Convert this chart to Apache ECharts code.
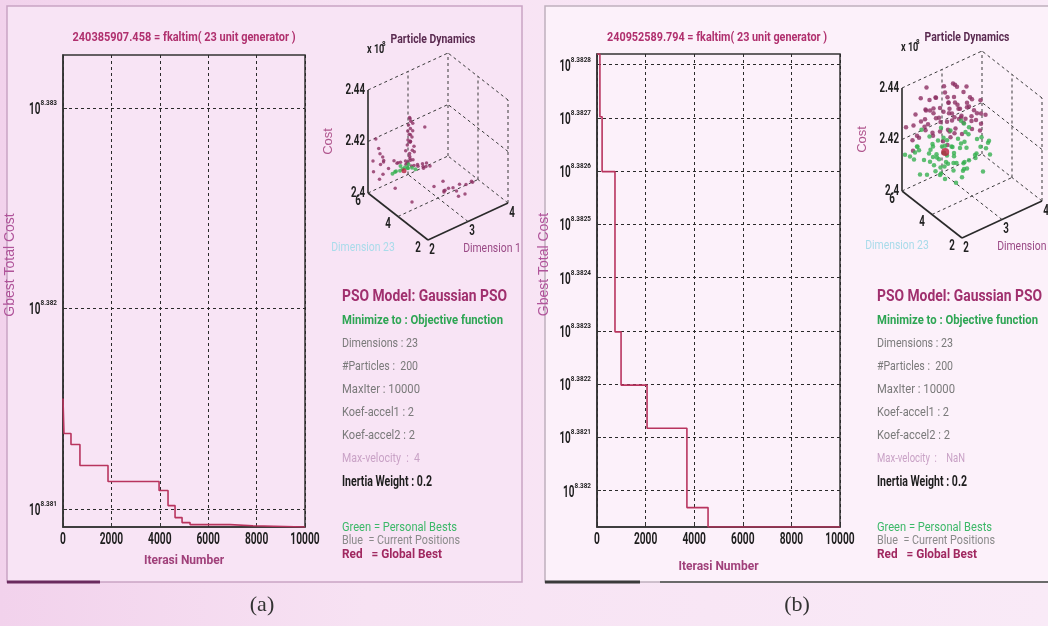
<!DOCTYPE html>
<html>
<head>
<meta charset="utf-8">
<script src="https://cdn.jsdelivr.net/npm/echarts@6/dist/echarts.min.js"></script>
<style>
html,body{margin:0;padding:0;background:#f7e2f3;}
#chart{width:1048px;height:626px;}
</style>
</head>
<body>
<div id="chart"></div>
<script>
// ---- Gbest convergence, run (a): iteration where gbest changes, and the new gbest cost
const iterA = [0, 40, 330, 700, 1860, 3970, 4340, 4630, 4920, 5250, 6900, 7850, 10000];
const gbestA = [240741000, 240644500, 240614000, 240556000, 240511600, 240486700, 240445100,
                240411900, 240398100, 240392500, 240389200, 240385907.458, 240385907.458];
const yTickExpA = [8.381, 8.382, 8.383];     // log10 tick positions
const yTopExpA = 8.383265;

// ---- Gbest convergence, run (b)
const iterB = [0, 120, 210, 740, 990, 2060, 3700, 4570, 10000];
const gbestB = [241446060, 241380450, 241323230, 241156030, 241100490, 241055530,
                240972830, 240952589.794, 240952589.794];
const yTickExpB = [8.382, 8.3821, 8.3822, 8.3823, 8.3824, 8.3825, 8.3826, 8.3827, 8.3828];
const yTopExpB = 8.38282;

const xTicks = [0, 2000, 4000, 6000, 8000, 10000];

const finalCostA = 240385907.458;
const finalCostB = 240952589.794;

// ---- Swarm snapshots: [dimension 1, dimension 23, cost (x 10^8)]
const posA = [
  [2.45,4.4,2.4175],[2.44,4.4,2.4195],[2.47,4.3,2.4210],[2.42,4.5,2.4225],[2.46,4.4,2.4240],
  [2.50,4.4,2.4255],[2.43,4.4,2.4270],[2.48,4.3,2.4285],[2.45,4.5,2.4300],[2.47,4.4,2.4318],
  [2.44,4.4,2.4335],[2.52,4.3,2.4200],[2.40,4.4,2.4250],[2.49,4.5,2.4230],[2.46,4.4,2.4290],
  [2.55,4.4,2.4215],[2.38,4.5,2.4205],[2.46,4.45,2.4180],[2.44,4.35,2.4245],[2.48,4.45,2.4262],
  [2.43,4.5,2.4278],[2.50,4.35,2.4310],[2.47,4.45,2.4325],
  [2.05,4.4,2.4195],[2.15,4.4,2.4180],[2.25,4.5,2.4170],[2.35,4.4,2.4160],[2.45,4.3,2.4150],
  [2.55,4.4,2.4140],[2.65,4.4,2.4130],[2.75,4.3,2.4120],[2.85,4.4,2.4115],[2.95,4.4,2.4110],
  [2.30,4.2,2.4175],[2.60,4.6,2.4150],[2.70,4.2,2.4135],[2.20,4.6,2.4165],[2.80,4.5,2.4125],
  [2.50,4.5,2.4160],[2.40,4.4,2.4165],[2.60,4.3,2.4145],[2.90,4.5,2.4120],[2.30,4.3,2.4180],
  [2.05,5.8,2.4130],[2.10,5.9,2.4080],[2.20,5.7,2.4110],[2.30,5.8,2.4060],[2.15,5.6,2.4160],
  [2.35,5.9,2.4100],[2.08,5.5,2.4190],[2.25,5.9,2.4040],[2.40,5.7,2.4080],[2.12,5.8,2.4210],
  [2.18,5.5,2.4150],[2.28,5.7,2.4120],
  [2.60,3.2,2.4110],[2.80,3.0,2.4090],[3.00,3.3,2.4070],[3.20,3.1,2.4080],[3.40,3.2,2.4060],
  [2.90,3.4,2.4100],[3.10,2.9,2.4050],[3.30,3.0,2.4040],[3.50,3.1,2.4070],[2.70,2.8,2.4100],
  [3.60,3.3,2.4050],[3.00,3.0,2.4085],[3.20,3.3,2.4045],[2.85,3.2,2.4075],
  [2.05,3.2,2.4089],[2.38,5.2,2.4028],[2.82,4.4,2.4270]
];
const pbestA = [
  [2.10,4.4,2.4150],[2.20,4.4,2.4145],[2.30,4.5,2.4140],[2.40,4.4,2.4140],[2.15,4.6,2.4135],
  [2.35,4.3,2.4150],[2.50,4.4,2.4135],[2.25,4.5,2.4155],[2.45,4.5,2.4148],[2.05,4.5,2.4140],
  [2.55,4.3,2.4130],[2.40,4.6,2.4135]
];
const gbestPosA = [[2.30,4.4,2.4138]];

const posB = [
  [2.6,5.5,2.430],[3.2,5.8,2.434],[2.2,4.5,2.428],[3.0,4.0,2.426],[2.1,6.0,2.424],
  [2.4,5.2,2.432],[2.8,5.0,2.429],[3.4,5.4,2.427],[2.5,4.8,2.425],[2.9,5.6,2.436],
  [2.3,5.9,2.428],[3.1,4.6,2.431],[2.7,4.3,2.427],[3.5,5.0,2.424],[2.2,5.4,2.422],
  [2.6,4.1,2.433],[3.3,4.2,2.429],[2.4,4.0,2.430],[2.8,5.9,2.431],[3.3,5.0,2.428],
  [2.0,5.0,2.426],[2.5,5.7,2.438],[3.0,5.2,2.433],[2.9,4.4,2.423],[3.2,4.9,2.437],
  [2.3,4.7,2.434],[2.7,5.3,2.425],[3.4,4.5,2.432],[2.1,4.2,2.429],[2.6,6.0,2.427],
  [3.3,4.2,2.425],[2.4,5.5,2.423],[3.1,5.9,2.429],[2.8,4.6,2.435],[3.3,5.7,2.424],
  [2.2,5.0,2.431],[2.9,4.9,2.421],[3.2,4.4,2.430],[2.5,4.3,2.422],[3.0,5.5,2.427],
  [2.15,5.7,2.420],[3.2,4.0,2.424],[2.7,4.0,2.436],[3.2,5.1,2.422],[2.35,4.4,2.437],
  [3.6,5.6,2.426],[2.05,5.4,2.418],[2.95,5.0,2.439],[3.4,4.8,2.423],[2.45,5.95,2.433],
  [2.3,5.3,2.426],[2.7,5.6,2.433],[3.0,4.7,2.428],[2.5,4.1,2.426],[2.9,5.3,2.431],
  [3.1,4.3,2.427],[2.2,4.8,2.430],[2.6,4.6,2.429],[3.4,5.2,2.430],[2.8,4.2,2.431],
  [2.4,5.8,2.425],[3.0,5.8,2.432],[2.1,5.5,2.427],[2.75,4.9,2.434],[3.25,4.7,2.426],
  [2.55,5.2,2.428],[2.35,4.2,2.425],[3.15,5.4,2.435],[2.65,4.4,2.430],[2.85,5.5,2.427],
  [3.45,4.3,2.427],[2.25,5.1,2.434],[2.95,4.3,2.429],[3.05,5.0,2.425],[2.5,5.5,2.434],
  [2.7,4.7,2.424],[3.35,5.5,2.431],[2.4,4.6,2.432],[2.9,4.7,2.433],[3.1,5.6,2.424]
];
const pbestB = [
  [2.5,5.0,2.414],[2.2,5.5,2.418],[2.8,4.5,2.412],[3.1,5.2,2.416],[2.4,4.2,2.410],
  [2.0,5.8,2.415],[2.9,5.8,2.419],[3.3,4.6,2.411],[2.6,4.0,2.408],[2.3,5.0,2.417],
  [3.0,4.2,2.413],[2.7,5.4,2.410],[3.5,5.0,2.414],[2.1,4.6,2.412],[2.45,5.9,2.421],
  [3.2,3.8,2.409],[2.85,4.9,2.416],[2.55,4.6,2.420],[3.4,5.6,2.418],[2.15,5.2,2.409],
  [2.75,3.9,2.415],[3.05,5.5,2.412],[2.35,4.8,2.413],[3.6,4.4,2.410],[2.65,5.7,2.415],
  [2.95,4.6,2.418],[2.25,4.1,2.416],[3.15,4.9,2.408],[2.6,5.2,2.419],[3.35,4.0,2.416],
  [2.05,5.0,2.420],[2.8,5.3,2.407],[3.25,5.4,2.421],[2.4,5.6,2.411],[2.9,4.1,2.419],
  [3.5,4.2,2.417],[2.5,4.4,2.415],[3.1,4.5,2.421],[2.2,6.0,2.412],[2.7,4.8,2.411],
  [3.7,4.8,2.412],[2.3,4.5,2.419],[3.0,5.9,2.414],[2.6,3.6,2.412],[3.3,5.0,2.420],
  [2.45,5.3,2.416],[2.75,5.0,2.413],[3.0,4.8,2.415],[2.35,4.4,2.411],[2.65,4.3,2.414],
  [2.9,5.4,2.416],[3.2,4.3,2.412],[2.15,5.6,2.413],[2.55,5.4,2.412],[2.85,4.2,2.410],
  [3.4,4.5,2.414],[2.25,4.8,2.415],[3.1,5.7,2.417],[2.7,4.4,2.417],[3.0,5.2,2.410],
  [2.4,5.0,2.419],[2.6,4.8,2.416],[3.3,5.3,2.413],[2.1,5.4,2.417],[2.8,3.8,2.413],
  [3.5,4.7,2.416],[2.5,3.9,2.414],[2.95,4.4,2.409],[2.3,5.8,2.416],[3.15,4.1,2.415],
  [2.65,5.9,2.417],[2.2,4.3,2.414],[3.25,5.1,2.418],[2.85,5.6,2.413],[2.45,4.6,2.410]
];
const gbestPosB = [[2.48,4.4,2.419]];

// ---- 3-D box ticks
const ticksD1 = [2, 3, 4];
const ticksD23 = [2, 4, 6];
const ticksCost = [2.40, 2.42, 2.44];
const costLabels = ['2.4', '2.42', '2.44'];

// ---- Info panel text
const modelTitle = 'PSO Model: Gaussian PSO';
const objectiveText = 'Minimize to : Objective function';
const paramsA = ['Dimensions : 23', '#Particles :  200', 'MaxIter : 10000', 'Koef-accel1 : 2', 'Koef-accel2 : 2', 'Max-velocity  :  4'];
const paramsB = ['Dimensions : 23', '#Particles :  200', 'MaxIter : 10000', 'Koef-accel1 : 2', 'Koef-accel2 : 2', 'Max-velocity  :    NaN'];
const inertiaText = 'Inertia Weight : 0.2';
const legendLines = ['Green = Personal Bests', 'Blue  = Current Positions', 'Red   = Global Best'];

const FONT = "Roboto,'Liberation Sans',sans-serif";
const SANS = "'Liberation Sans','DejaVu Sans',sans-serif";

// horizontal squeeze needed to set a string at a given width (narrow lettering)
const measureCtx = document.createElement('canvas').getContext('2d');
function textWidth(text, font) { measureCtx.font = font; return measureCtx.measureText(text).width; }
function fitScale(text, font, width) { return width / textWidth(text, font); }

// oblique view of the 3-D box: screen offset of each full axis span (px, y up)
function project(p) {
  const a = (p[0] - ticksD1[0]) / (ticksD1[2] - ticksD1[0]);
  const b = (p[1] - ticksD23[0]) / (ticksD23[2] - ticksD23[0]);
  const g = (p[2] - ticksCost[0]) / (ticksCost[2] - ticksCost[0]);
  return [a * 80 - b * 60, a * 37 + b * 47 + g * 103];
}

function boxSegments() {
  const d1a = ticksD1[0], d1b = ticksD1[2], ea = ticksD23[0], eb = ticksD23[2];
  const ca = ticksCost[0], cb = ticksCost[2];
  const s = [];
  // solid axes
  s.push({p: [[d1a, eb, ca], [d1a, eb, cb]], solid: true});
  s.push({p: [[d1a, eb, ca], [d1a, ea, ca]], solid: true});
  s.push({p: [[d1a, ea, ca], [d1b, ea, ca]], solid: true});
  // back wall (dimension 23 = max)
  ticksD1.slice(1).forEach(v => s.push({p: [[v, eb, ca], [v, eb, cb]]}));
  ticksCost.forEach(c => s.push({p: [[d1a, eb, c], [d1b, eb, c]]}));
  // side wall (dimension 1 = max)
  ticksD23.slice(0, -1).forEach(v => s.push({p: [[d1b, v, ca], [d1b, v, cb]]}));
  ticksCost.forEach(c => s.push({p: [[d1b, ea, c], [d1b, eb, c]]}));
  // floor grid
  ticksD1.slice(1, -1).forEach(v => s.push({p: [[v, ea, ca], [v, eb, ca]]}));
  ticksD23.slice(1, -1).forEach(v => s.push({p: [[d1a, v, ca], [d1b, v, ca]]}));
  return s;
}
const SEGMENTS = boxSegments();

function boxRender(params, api) {
  const pt = (p, dx, dy) => { const c = api.coord(project(p)); return [c[0] + (dx || 0), c[1] + (dy || 0)]; };
  const children = SEGMENTS.map(sg => {
    const p1 = pt(sg.p[0]), p2 = pt(sg.p[1]);
    return {type: 'line', shape: {x1: p1[0], y1: p1[1], x2: p2[0], y2: p2[1]},
      style: {stroke: sg.solid ? '#2a2a2a' : '#3a3a3a', lineWidth: sg.solid ? 1.6 : 1, lineDash: sg.solid ? null : [3, 3]}};
  });
  const txt = (text, p, font, fill, sx, align, rot) => {
    const el = {type: 'text', x: p[0], y: p[1], scaleX: sx,
      style: {text, font, fill, align: align || 'center', verticalAlign: 'middle'}};
    if (rot) el.rotation = rot;
    return el;
  };
  const tickFont = 'bold 15px ' + FONT;
  const d1a = ticksD1[0], eb = ticksD23[2], ea = ticksD23[0], ca = ticksCost[0], cb = ticksCost[2];
  ticksCost.forEach((c, i) => children.push(txt(costLabels[i], pt([d1a, eb, c], -3, 0), tickFont, '#222', 0.65, 'right')));
  ticksD23.forEach(v => children.push(txt(String(v), pt([d1a, v, ca], -10, 8), tickFont, '#222', 0.65)));
  ticksD1.forEach(v => children.push(txt(String(v), pt([v, ea, ca], 4, 10), tickFont, '#222', 0.65)));
  children.push(txt('Dimension 1', pt([ticksD1[1], ea, ca], 24, 27), '13px ' + FONT, '#9a4a86', 0.8));
  children.push(txt('Dimension 23', pt([d1a, ticksD23[1], ca], -35, 31), '13px ' + FONT, '#a9dbea', 0.8));
  children.push(txt('Cost', pt([d1a, eb, ticksCost[1]], -40, 0), '13px ' + SANS, '#b0568e', 1, 'center', Math.PI / 2));
  children.push(txt('x 10', pt([d1a, eb, cb], -1, -40), 'bold 13px ' + FONT, '#222', 0.7, 'left'));
  children.push(txt('8', pt([d1a, eb, cb], 14, -46), 'bold 7px ' + FONT, '#222', 0.9, 'left'));
  children.push(txt('Particle Dynamics', pt([d1a, eb, cb], 65, -50), 'bold 13px ' + FONT, '#5a2a50', 0.8));
  return {type: 'group', children};
}

// tick labels of the convergence axes, placed through the axis scales
function xTickLabels(axisIndex, yMin) {
  return {
    type: 'custom', xAxisIndex: axisIndex, yAxisIndex: axisIndex, clip: false, silent: true, z: 6,
    data: xTicks.map(v => [v, yMin]),
    renderItem: (params, api) => {
      const p = api.coord([api.value(0), api.value(1)]);
      return {type: 'text', x: p[0], y: p[1] + 13, scaleX: 0.6,
        style: {text: String(api.value(0)), font: 'bold 17px ' + FONT, fill: '#1e1e1e', align: 'center', verticalAlign: 'middle'}};
    }
  };
}
function yTickLabels(axisIndex, ticks, decimals) {
  const expFont = 'bold 8px ' + FONT, expScale = 0.8;
  return {
    type: 'custom', xAxisIndex: axisIndex, yAxisIndex: axisIndex, clip: false, silent: true, z: 6,
    data: ticks.map(t => [0, t]),
    renderItem: (params, api) => {
      const t = api.value(1);
      const p = api.coord([0, t]);
      const exp = String(+t.toFixed(decimals));
      const ew = textWidth(exp, expFont) * expScale;
      return {type: 'group', children: [
        {type: 'text', x: p[0] - 6, y: p[1] - 5, scaleX: expScale,
         style: {text: exp, font: expFont, fill: '#1e1e1e', align: 'right', verticalAlign: 'middle'}},
        {type: 'text', x: p[0] - 6 - ew, y: p[1] + 2, scaleX: 0.62,
         style: {text: '10', font: 'bold 16px ' + FONT, fill: '#1e1e1e', align: 'right', verticalAlign: 'middle'}}
      ]};
    }
  };
}

function convY(gridIndex, ticks, min, max) {
  return {
    type: 'value', gridIndex, min, max,
    name: 'Gbest Total Cost', nameLocation: 'middle', nameGap: 46,
    nameTextStyle: {color: '#b0549a', fontSize: 14, fontFamily: SANS, padding: [0, 0, 0, 52]},
    axisLine: {show: true, lineStyle: {color: '#333', width: 1.5}},
    axisTick: {show: true, inside: true, length: 4, customValues: ticks, lineStyle: {color: '#333'}},
    axisLabel: {show: false, customValues: ticks},
    splitLine: {show: true, lineStyle: {color: '#2a2a2a', type: [3, 3], width: 1}}
  };
}
function convX(gridIndex, gap) {
  return {
    type: 'value', gridIndex, min: xTicks[0], max: xTicks[xTicks.length - 1], interval: xTicks[1] - xTicks[0],
    name: 'Iterasi Number', nameLocation: 'middle', nameGap: gap,
    nameTextStyle: {color: '#a0407a', fontSize: 12, fontFamily: FONT, fontWeight: 'bold'},
    axisLine: {show: true, lineStyle: {color: '#333', width: 1.5}},
    axisTick: {show: true, inside: true, length: 4, lineStyle: {color: '#333'}},
    axisLabel: {show: false},
    splitLine: {show: true, lineStyle: {color: '#2a2a2a', type: [3, 3], width: 1}}
  };
}
function hiddenAxes(gridIndex) {
  return [
    {type: 'value', gridIndex, min: -60, max: 80, show: false},
    {type: 'value', gridIndex, min: 0, max: 187, show: false}
  ];
}

const convA = iterA.map((it, i) => [it, Math.log10(gbestA[i])]);
const convB = iterB.map((it, i) => [it, Math.log10(gbestB[i])]);

function textEl(text, x, y, font, fill, width, align) {
  return {type: 'text', x, y, z: 10, scaleX: fitScale(text, font, width),
    style: {text, font, fill, align: align || 'left', verticalAlign: 'middle'}};
}

function infoGraphics(x0, params, velWidth) {
  const els = [];
  const grey = ['#7a7a7a', '#7a7a7a', '#7a7a7a', '#7a7a7a', '#7a7a7a', '#c9a2c6'];
  const widths = [76, 76, 78, 72, 73, velWidth];
  els.push(textEl(modelTitle, x0, 297, 'bold 17px ' + FONT, '#a0306e', 165));
  els.push(textEl(objectiveText, x0, 321, 'bold 13px ' + FONT, '#2ea554', 161));
  params.forEach((p, i) => els.push(textEl(p, x0, 344 + i * 23, '13px ' + FONT, grey[i], widths[i])));
  els.push(textEl(inertiaText, x0, 482, 'bold 14px ' + FONT, '#1e1e1e', 90));
  els.push(textEl(legendLines[0], x0, 528, '12px ' + FONT, '#3cb868', 115));
  els.push(textEl(legendLines[1], x0, 541, '12px ' + FONT, '#8a8a8a', 118));
  els.push(textEl(legendLines[2], x0, 555, 'bold 12px ' + FONT, '#a02860', 100));
  return els;
}

const chart = echarts.init(document.getElementById('chart'), null, {renderer: 'canvas', width: 1048, height: 626});

const graphics = [
  {type: 'rect', z: -100, shape: {x: 0, y: 0, width: 1048, height: 626},
   style: {fill: new echarts.graphic.LinearGradient(0, 0, 1, 0, [
     {offset: 0, color: '#f2d2ec'}, {offset: 0.35, color: '#f7e2f3'}, {offset: 1, color: '#f9eaf7'}])}},
  {type: 'rect', z: -90, shape: {x: 7, y: 6, width: 515, height: 576},
   style: {fill: '#f8e4f5', stroke: '#c9a4c4', lineWidth: 1.5}},
  {type: 'rect', z: -90, shape: {x: 545, y: 6, width: 510, height: 576},
   style: {fill: '#fcf1fa', stroke: '#bfb0bd', lineWidth: 1.5}},
  {type: 'line', z: -80, shape: {x1: 7, y1: 582, x2: 100, y2: 582}, style: {stroke: '#6a2a5e', lineWidth: 3}},
  {type: 'line', z: -80, shape: {x1: 545, y1: 582, x2: 640, y2: 582}, style: {stroke: '#3a3a3a', lineWidth: 3}},
  {type: 'line', z: -80, shape: {x1: 660, y1: 582, x2: 1048, y2: 582}, style: {stroke: '#6a6a6a', lineWidth: 2}},
  textEl(finalCostA.toFixed(3) + ' = fkaltim( 23 unit generator )', 184, 38, 'bold 13px ' + FONT, '#b0306e', 223, 'center'),
  textEl(finalCostB.toFixed(3) + ' = fkaltim( 23 unit generator )', 717, 38, 'bold 13px ' + FONT, '#b0306e', 220, 'center'),
  {type: 'text', x: 262, y: 605, z: 10, style: {text: '(a)', font: '22px "Liberation Serif","DejaVu Serif",serif',
    fill: '#333', align: 'center', verticalAlign: 'middle'}},
  {type: 'text', x: 797, y: 605, z: 10, style: {text: '(b)', font: '22px "Liberation Serif","DejaVu Serif",serif',
    fill: '#333', align: 'center', verticalAlign: 'middle'}}
].concat(infoGraphics(342, paramsA, 78), infoGraphics(877, paramsB, 88));

const minExpA = Math.log10(finalCostA), minExpB = Math.log10(finalCostB);

const option = {
  animation: false,
  backgroundColor: 'transparent',
  graphic: graphics,
  grid: [
    {left: 63, top: 55, width: 242, height: 472, show: true, borderColor: '#333', borderWidth: 1.5, backgroundColor: 'transparent'},
    {left: 597, top: 54, width: 243, height: 473, show: true, borderColor: '#333', borderWidth: 1.5, backgroundColor: 'transparent'},
    {left: 368, top: 53, width: 140, height: 187, show: false},
    {left: 902, top: 51, width: 140, height: 187, show: false}
  ],
  xAxis: [convX(0, 28), convX(1, 34), hiddenAxes(2)[0], hiddenAxes(3)[0]],
  yAxis: [
    convY(0, yTickExpA, minExpA, yTopExpA),
    convY(1, yTickExpB, minExpB, yTopExpB),
    hiddenAxes(2)[1], hiddenAxes(3)[1]
  ],
  series: [
    {type: 'line', xAxisIndex: 0, yAxisIndex: 0, data: convA, step: 'end', showSymbol: false,
     lineStyle: {color: '#b8345e', width: 1.6}, z: 5},
    {type: 'line', xAxisIndex: 1, yAxisIndex: 1, data: convB, step: 'end', showSymbol: false,
     lineStyle: {color: '#b8345e', width: 1.6}, z: 5},
    xTickLabels(0, minExpA), xTickLabels(1, minExpB),
    yTickLabels(0, yTickExpA, 3), yTickLabels(1, yTickExpB, 4),
    {type: 'custom', xAxisIndex: 2, yAxisIndex: 2, data: [[0, 0]], renderItem: boxRender, clip: false, z: 1, silent: true},
    {type: 'custom', xAxisIndex: 3, yAxisIndex: 3, data: [[0, 0]], renderItem: boxRender, clip: false, z: 1, silent: true},
    {type: 'scatter', xAxisIndex: 2, yAxisIndex: 2, data: posA.map(project), symbolSize: 3.5, itemStyle: {color: '#8c2f63'}, z: 3},
    {type: 'scatter', xAxisIndex: 2, yAxisIndex: 2, data: pbestA.map(project), symbolSize: 4, itemStyle: {color: '#36b050'}, z: 4},
    {type: 'scatter', xAxisIndex: 2, yAxisIndex: 2, data: gbestPosA.map(project), symbolSize: 5, itemStyle: {color: '#b8203e'}, z: 5},
    {type: 'scatter', xAxisIndex: 3, yAxisIndex: 3, data: posB.map(project), symbolSize: 4.5, itemStyle: {color: '#8c2f63'}, z: 3},
    {type: 'scatter', xAxisIndex: 3, yAxisIndex: 3, data: pbestB.map(project), symbolSize: 4.5, itemStyle: {color: '#36b050'}, z: 4},
    {type: 'scatter', xAxisIndex: 3, yAxisIndex: 3, data: gbestPosB.map(project), symbolSize: 8, itemStyle: {color: '#b8203e'}, z: 5}
  ]
};
chart.setOption(option);
</script>
</body>
</html>
